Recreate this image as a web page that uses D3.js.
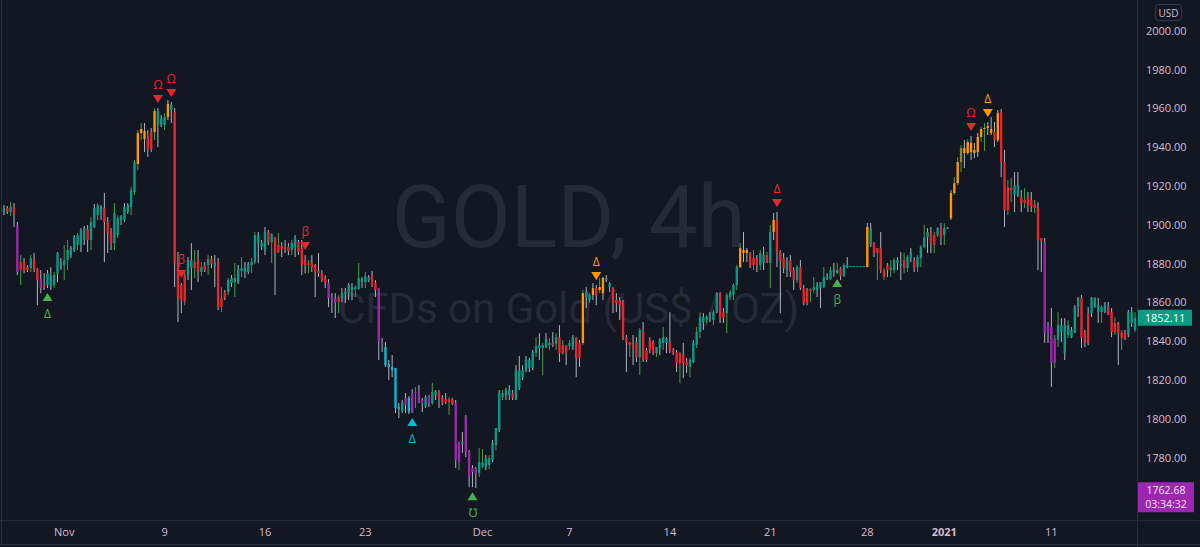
<!DOCTYPE html>
<html>
<head>
<meta charset="utf-8">
<script src="https://cdn.jsdelivr.net/npm/d3@7"></script>
<style>
  body { margin: 0; background: #131722; }
  svg { display: block; }
</style>
</head>
<body>
<svg id="chart"></svg>
<script>
// GOLD 4h candles (oldest first)
const opens = [
  1906.1,1908.7,1906.6,1909.2,1899.9,1880.8,1881.3,1878.2,1877.7,1882.4,
  1877.2,1872.0,1869.0,1869.0,1867.9,1869.0,1875.1,1877.7,1879.3,1881.8,
  1884.4,1887.0,1889.6,1889.6,1892.2,1897.8,1892.2,1898.9,1905.0,1906.6,
  1908.7,1901.5,1896.3,1890.6,1894.7,1902.5,1902.5,1906.6,1909.2,1916.9,
  1931.3,1947.3,1944.2,1944.2,1947.8,1947.8,1951.5,1951.5,1951.5,1955.6,
  1959.2,1958.2,1880.3,1869.0,1874.1,1874.1,1877.7,1880.8,1881.8,1875.7,
  1879.3,1879.3,1882.4,1878.8,1881.3,1862.3,1865.3,1865.3,1870.0,1870.5,
  1870.5,1876.2,1875.7,1875.7,1879.3,1880.8,1890.6,1888.6,1887.0,1896.3,
  1891.1,1893.7,1889.6,1889.1,1888.6,1888.6,1887.0,1888.6,1891.1,1888.0,
  1881.8,1880.3,1880.3,1879.3,1876.2,1875.1,1872.6,1870.0,1862.3,1861.7,
  1862.8,1862.3,1864.3,1864.8,1866.4,1866.9,1866.9,1870.5,1870.5,1871.5,
  1874.1,1870.0,1867.4,1839.6,1837.0,1828.2,1826.7,1826.2,1806.1,1804.0,
  1810.7,1810.7,1813.3,1813.8,1813.3,1809.7,1806.6,1811.2,1808.1,1812.2,1813.8,
  1810.7,1810.2,1810.2,1810.2,1808.1,1787.5,1787.0,1800.9,1782.9,1774.6,
  1774.1,1772.0,1775.2,1775.2,1776.2,1778.7,1786.5,1794.2,1811.2,1812.2,
  1812.2,1813.3,1809.7,1815.9,1821.5,1825.1,1826.2,1826.2,1833.9,1836.5,
  1836.5,1837.0,1838.0,1839.1,1838.6,1842.1,1838.0,1838.0,1837.5,1837.0,
  1841.6,1839.1,1839.1,1862.8,1861.2,1863.8,1867.4,1866.4,1864.8,1871.5,
  1867.9,1867.4,1861.2,1861.2,1860.2,1842.1,1839.6,1838.0,1839.6,1831.9,1844.7,
  1835.5,1840.6,1839.6,1833.9,1836.5,1839.1,1839.1,1839.6,1835.5,1834.4,
  1833.9,1832.9,1829.3,1826.7,1829.3,1838.0,1844.7,1849.9,1850.9,1852.0,
  1850.9,1855.0,1864.8,1855.0,1854.5,1862.8,1863.8,1869.0,1878.2,1885.5,
  1885.5,1885.5,1882.9,1882.9,1879.3,1880.3,1884.4,1880.3,1896.3,1902.5,
  1886.0,1882.9,1876.7,1881.8,1876.7,1871.5,1878.2,1867.4,1866.4,
  1866.9,1866.4,1866.4,1867.4,1867.9,1872.6,1872.0,1875.7,1875.1,1877.7,
  1873.6,1878.2,1878.8,1878.8,1878.8,1878.8,1878.8,1878.2,1889.6,1890.6,
  1888.0,1888.0,1876.7,1879.3,1876.7,1876.7,1880.3,1878.8,1881.8,1877.7,
  1882.9,1881.8,1878.2,1882.9,1888.6,1893.7,1896.3,1894.7,1894.7,1898.3,
  1894.7,1898.3,1903.5,1916.4,1921.5,1932.4,1937.0,1937.0,1937.5,1937.0,
  1937.5,1945.3,1949.4,1949.9,1947.3,1947.8,1943.7,1958.2,1932.4,1919.5,
  1919.0,1915.4,1915.4,1914.3,1912.8,1914.3,1912.8,1910.7,1908.7,1893.2,
  1890.6,1848.3,1847.3,1841.6,1840.6,1844.7,1833.9,1843.2,1842.1,1844.7,
  1857.6,1862.3,1844.7,1839.1,1854.5,1857.6,1855.0,1855.0,1855.0,1857.6,
  1855.0,1849.4,1849.4,1844.7,1844.2,1843.2,1849.4,1845.8
];
const highs = [
  1910.2,1909.7,1911.7,1911.2,1901.5,1884.4,1882.9,1879.3,1884.4,1885.5,
  1877.7,1876.7,1875.1,1876.7,1878.2,1875.7,1886.0,1882.9,1889.6,1892.2,
  1889.1,1894.7,1895.8,1898.3,1899.4,1899.9,1904.0,1910.7,1911.2,1910.2,
  1916.4,1904.0,1898.3,1911.2,1905.0,1905.0,1911.2,1911.2,1919.5,1933.4,
  1948.9,1952.5,1952.5,1948.9,1949.9,1960.2,1960.2,1956.6,1957.6,1964.3,
  1963.3,1960.2,1886.0,1870.0,1876.7,1883.4,1890.6,1887.0,1887.0,1880.8,
  1880.8,1884.4,1883.9,1884.4,1882.9,1867.9,1866.4,1872.6,1874.1,1880.3,
  1879.3,1883.4,1880.8,1880.8,1882.9,1896.3,1896.3,1892.2,1898.9,1897.3,
  1895.8,1893.7,1895.8,1891.1,1892.2,1890.6,1892.2,1894.7,1892.2,1892.2,
  1884.4,1881.8,1884.4,1879.8,1885.5,1876.7,1874.1,1872.0,1864.8,1864.8,
  1863.8,1867.4,1867.4,1870.0,1870.0,1869.0,1880.3,1873.1,1875.7,1874.1,
  1876.2,1871.5,1867.4,1841.6,1839.6,1830.3,1832.9,1826.2,1808.1,1809.7,
  1813.3,1811.7,1815.3,1816.4,1817.4,1810.7,1812.2,1812.2,1818.5,1814.8,1814.8,
  1812.2,1813.3,1811.2,1810.7,1809.7,1788.6,1793.2,1801.9,1783.9,1776.2,
  1775.2,1784.9,1784.4,1781.3,1781.3,1789.1,1795.3,1814.8,1814.8,1815.9,
  1817.4,1814.8,1827.7,1832.4,1827.7,1832.4,1831.4,1835.5,1842.1,1844.2,
  1839.1,1844.2,1841.6,1844.7,1844.2,1848.3,1840.6,1838.0,1840.6,1843.2,
  1842.1,1840.6,1866.4,1867.9,1864.8,1870.0,1869.0,1872.6,1873.1,1874.1,
  1870.5,1867.9,1864.8,1862.8,1861.2,1843.2,1839.6,1843.2,1842.1,1846.8,1849.9,
  1836.5,1842.1,1840.6,1837.0,1841.6,1847.3,1842.1,1855.0,1836.5,1835.5,
  1834.4,1839.1,1831.4,1831.4,1840.6,1847.3,1855.0,1854.5,1853.5,1855.0,
  1856.1,1865.3,1865.3,1857.1,1864.8,1866.4,1870.0,1879.3,1890.6,1896.3,
  1888.0,1886.0,1887.0,1884.4,1887.0,1888.6,1886.0,1899.9,1906.1,1906.6,
  1887.0,1885.5,1883.4,1884.4,1878.2,1879.3,1881.8,1869.0,1867.4,
  1867.4,1873.1,1870.5,1870.5,1878.2,1875.1,1878.2,1880.3,1880.3,1878.2,
  1880.3,1883.4,1878.8,1878.8,1878.8,1878.8,1878.8,1900.9,1900.9,1891.1,
  1888.0,1896.3,1877.7,1880.3,1881.8,1882.9,1883.4,1886.0,1885.5,1884.4,
  1888.0,1883.4,1884.4,1889.6,1899.9,1898.3,1898.9,1896.3,1898.9,1900.9,
  1900.9,1898.9,1917.9,1924.6,1934.9,1941.1,1943.7,1944.2,1945.8,1942.2,
  1947.3,1950.4,1952.5,1953.0,1955.6,1953.0,1959.2,1959.7,1938.6,1923.1,
  1924.1,1927.2,1927.2,1917.9,1918.9,1916.9,1916.9,1912.8,1911.7,1893.2,
  1893.2,1849.9,1857.1,1843.2,1855.0,1851.9,1851.9,1850.9,1847.3,1858.6,
  1862.8,1863.8,1845.8,1857.6,1862.8,1862.8,1862.3,1858.6,1860.2,1860.2,
  1857.1,1852.5,1849.9,1845.8,1845.8,1856.1,1857.6,1855.0
];
const lows = [
  1905.0,1905.6,1904.5,1898.9,1874.1,1869.0,1875.1,1875.7,1875.7,1875.7,
  1858.6,1864.8,1866.4,1867.4,1866.4,1867.4,1870.5,1876.7,1871.5,1876.7,
  1882.9,1886.0,1887.0,1886.0,1889.6,1886.0,1887.0,1898.3,1902.5,1902.5,
  1880.8,1885.5,1887.0,1887.0,1893.2,1899.9,1901.5,1905.6,1905.0,1915.4,
  1928.2,1943.7,1937.5,1935.0,1937.5,1943.7,1940.1,1950.4,1948.9,1954.0,
  1952.5,1867.9,1849.9,1854.5,1858.6,1871.5,1866.4,1872.6,1870.5,1873.6,
  1875.7,1874.1,1877.7,1867.9,1856.1,1855.0,1861.2,1863.8,1867.9,1862.8,
  1869.5,1873.1,1872.6,1874.6,1875.1,1879.8,1880.3,1887.0,1884.4,1889.6,
  1880.3,1863.8,1885.5,1883.4,1885.5,1884.4,1884.4,1883.4,1884.4,1874.1,
  1875.1,1875.1,1875.7,1862.8,1873.1,1870.5,1867.4,1857.6,1854.5,1852.0,
  1854.5,1860.2,1859.7,1861.2,1861.2,1862.8,1866.4,1867.4,1867.4,1870.5,
  1867.9,1862.8,1830.3,1834.4,1826.7,1820.0,1821.5,1803.0,1800.4,1803.0,
  1803.0,1802.5,1803.0,1805.6,1808.1,1803.5,1805.6,1806.1,1807.1,1809.7,1805.6,
  1807.1,1807.6,1802.0,1807.1,1774.6,1773.6,1782.4,1780.3,1764.8,1764.8,
  1764.3,1770.0,1774.6,1773.6,1774.1,1777.7,1783.9,1793.2,1809.7,1809.7,
  1809.7,1809.7,1809.7,1814.8,1820.0,1824.1,1824.1,1825.1,1831.9,1830.3,
  1822.6,1836.5,1835.5,1837.0,1835.5,1829.3,1832.9,1827.7,1835.5,1835.5,
  1821.5,1826.7,1838.0,1857.1,1859.7,1861.2,1858.6,1864.8,1861.2,1870.5,
  1865.3,1854.5,1855.0,1850.9,1840.6,1824.1,1831.9,1827.7,1829.3,1822.6,1829.3,
  1829.3,1833.9,1832.9,1831.9,1832.9,1835.5,1833.9,1833.9,1832.9,1824.1,
  1818.4,1821.0,1823.6,1821.5,1828.8,1836.5,1841.6,1845.8,1849.4,1849.9,
  1848.3,1854.5,1849.4,1849.4,1844.2,1861.2,1861.2,1866.4,1877.7,1880.8,
  1880.8,1877.7,1876.7,1875.7,1876.7,1876.7,1880.3,1867.4,1892.2,1878.2,
  1854.5,1875.1,1873.1,1873.1,1866.4,1870.0,1866.4,1858.6,1858.6,
  1860.2,1864.8,1862.8,1857.1,1867.4,1871.5,1871.5,1873.1,1874.6,1871.5,
  1873.1,1877.7,1878.8,1878.8,1878.8,1878.8,1878.8,1878.2,1888.6,1883.4,
  1871.5,1875.1,1871.5,1873.1,1873.1,1875.1,1876.7,1871.5,1875.1,1875.7,
  1880.8,1875.7,1875.7,1878.2,1888.0,1885.5,1885.5,1885.5,1893.7,1889.6,
  1889.6,1897.8,1902.5,1915.4,1920.5,1927.2,1929.3,1936.0,1933.4,1934.4,
  1935.0,1942.7,1938.1,1946.3,1946.3,1940.1,1942.7,1924.6,1898.9,1905.0,
  1911.7,1906.6,1914.3,1906.6,1908.7,1906.6,1906.6,1906.1,1876.7,1875.7,
  1839.1,1839.1,1816.4,1826.2,1837.0,1839.6,1830.3,1841.6,1841.6,1844.2,
  1852.5,1836.5,1837.0,1838.0,1852.5,1857.1,1849.4,1849.4,1854.5,1853.5,
  1842.1,1843.2,1827.7,1835.5,1840.6,1842.1,1847.3,1844.7
];
const closes = [
  1908.7,1906.6,1909.2,1905.6,1875.7,1876.7,1876.7,1876.7,1882.9,1877.2,
  1871.5,1867.4,1867.9,1875.1,1874.1,1874.1,1885.5,1880.8,1881.8,1887.0,
  1888.0,1893.7,1894.7,1897.3,1898.3,1892.2,1901.5,1908.7,1910.2,1909.2,
  1901.5,1895.8,1890.6,1906.1,1903.5,1904.5,1909.2,1910.2,1917.9,1932.4,
  1947.3,1949.4,1948.3,1939.1,1939.1,1958.7,1958.7,1955.1,1955.6,1962.3,
  1961.8,1880.3,1862.3,1861.2,1860.2,1881.8,1881.8,1877.7,1875.7,1878.2,
  1876.7,1882.4,1879.8,1880.8,1857.6,1857.6,1862.3,1871.5,1872.6,1872.6,
  1877.2,1877.7,1877.7,1879.8,1880.8,1894.7,1894.7,1890.6,1896.3,1891.1,
  1895.2,1885.5,1886.0,1887.5,1887.5,1886.5,1890.6,1893.2,1886.0,1879.3,
  1879.3,1879.3,1878.2,1875.7,1875.1,1871.5,1870.0,1862.3,1861.2,1860.2,
  1860.2,1864.8,1865.3,1869.0,1867.9,1867.9,1872.6,1872.0,1873.6,1873.1,
  1869.0,1866.4,1839.6,1838.5,1827.7,1826.7,1825.1,1805.6,1805.0,1808.1,
  1807.1,1803.5,1803.5,1813.3,1808.6,1808.1,1811.2,1807.6,1813.8,1814.3,1810.2,
  1808.1,1808.6,1808.6,1807.6,1778.7,1777.7,1788.0,1782.9,1770.0,1772.6,
  1772.0,1777.7,1777.7,1779.3,1779.8,1787.5,1795.3,1813.3,1813.3,1814.8,
  1814.8,1810.7,1825.1,1825.1,1825.1,1830.3,1830.3,1834.4,1837.5,1838.0,
  1838.0,1841.1,1839.1,1838.0,1842.1,1833.9,1833.9,1833.9,1839.1,1842.1,
  1831.4,1831.4,1864.8,1865.3,1863.8,1867.4,1863.8,1867.9,1872.6,1872.6,
  1870.0,1859.7,1859.7,1858.6,1842.1,1839.1,1838.0,1836.5,1831.9,1845.8,1830.3,
  1830.3,1835.5,1833.9,1837.0,1840.6,1842.1,1841.6,1835.5,1833.9,1828.8,
  1828.8,1828.8,1827.7,1830.3,1839.1,1844.7,1852.5,1852.5,1852.5,1852.5,
  1855.0,1864.8,1852.0,1852.0,1863.8,1865.3,1869.0,1878.2,1888.0,1887.0,
  1887.0,1878.2,1879.3,1879.3,1885.5,1884.4,1880.3,1896.3,1902.5,1886.0,
  1881.8,1877.7,1881.8,1875.7,1871.5,1878.2,1867.4,1859.7,1859.7,
  1865.9,1867.9,1869.0,1870.5,1873.1,1873.1,1876.7,1876.7,1876.7,1873.6,
  1879.3,1879.3,1878.8,1878.8,1878.8,1878.8,1878.8,1898.9,1898.3,1885.5,
  1885.5,1876.7,1873.1,1876.7,1878.2,1881.8,1881.8,1879.8,1877.7,1883.4,
  1886.0,1877.7,1883.4,1888.6,1893.7,1896.3,1890.6,1889.6,1898.3,1893.7,
  1898.3,1898.4,1916.4,1921.5,1932.4,1939.6,1939.6,1942.7,1942.2,1938.6,
  1945.3,1949.4,1949.9,1950.9,1949.4,1943.7,1957.6,1932.4,1907.6,1907.6,
  1917.9,1920.5,1920.5,1911.2,1911.2,1910.2,1909.2,1908.7,1892.2,1891.6,
  1844.2,1844.2,1828.8,1828.8,1848.3,1848.3,1848.3,1848.3,1845.8,1857.6,
  1862.3,1842.1,1839.1,1854.5,1862.3,1862.3,1858.6,1857.6,1858.6,1853.5,
  1844.7,1844.7,1844.2,1841.6,1841.6,1855.0,1855.0,1852.11
];
// indicator state per candle: t teal, r red, o orange, p purple, c cyan, v olive
const bodyKinds = (
  "trtrprrrtr rprttttttt tttttrtttt rrrttttttt ooorrottto " +
  "trrrrttrrt rtrtrrrttt tttttttttr trrrrrttrr rrrrrrrppp " +
  "rttttttttt rrppccccct pcpppptpttr rrrrpptppp pttttttttt " +
  "trtttttttt tttrtrrrtt rrottoroot trrrrrrrrtr rrrttttrrr " +
  "rrrttttttt ttrrttttoo orrrttrtor rrtrrtrrr rttttttttr " +
  "tttttttotr rrrrttttrt trttttrrtr ttooovoooo ooooororrr " +
  "rttrrrrrrr pppptttttt trrrtttttr rrrrrttt").replace(/ /g, "").split("");
// wick tone per candle: g grey, n green
const wickKinds = (
  "ggnggnggng gggggnggnn ggngggngng gggnngggnn nngggnggng " +
  "ggggnggngn gngggngngn gnggnngggg ngngggnggg gngggggggg " +
  "nggggnngng gggggggggg gggnggggngg ggnggngggg gnngngngng " +
  "ggggggggng ngngngngng ggngnggngg ggggggnggng gggngngggg " +
  "nggngnngng ngggnnnnng ggngngnngg gggggnggg nnggngngng " +
  "nggggggggg ngngnnggnn ggnnnggnng nggnnngngg gnnggggggn " +
  "ngggnggngg gggnnggngg gggggngngg gngngggn").replace(/ /g, "").split("");

const tickIndex = [18, 48, 78, 108, 143, 169, 199, 229, 258, 281, 313];
const tickLabels = ["Nov", "9", "16", "23", "Dec", "7", "14", "21", "28", "2021", "11"];
const priceTicks = [1780, 1800, 1820, 1840, 1860, 1880, 1900, 1920, 1940, 1960, 1980, 2000];

// signal shapes from the indicator
const markerIndex = [13, 46, 50, 53, 90, 122, 140, 177, 231, 249, 289, 294];
const markerGlyph = ["Δ", "Ω", "Ω", "β", "β", "Δ", "℧", "Δ", "Δ", "β", "Ω", "Δ"];
const markerSide  = ["below", "above", "above", "above", "above", "below", "below", "above", "above", "below", "above", "above"];
const markerKind  = ["green", "red", "red", "red", "red", "cyan", "green", "orange", "red", "green", "red", "orange"];

const levelPrice = 1762.68;
const levelTimer = "03:34:32";

const W = 1200, H = 547;
const plotRight = 1137, timeTop = 520.7;
const bg = "#131722", lineCol = "#2a2e39", textCol = "#d6bccd";
const bodyColor = { t: "#0b9a86", r: "#e8262e", o: "#ff9800", p: "#9c27b0", c: "#00bcd4", v: "#8b8b2b" };
const wickColor = { g: "#b2b5be", n: "#43a047" };
const markColor = { green: "#4caf50", red: "#e8262e", cyan: "#00bcd4", orange: "#ff9800" };

const svg = d3.select("#chart").attr("width", W).attr("height", H)
  .style("font-family", "'Open Sans', sans-serif");

svg.append("rect").attr("width", W).attr("height", H).attr("fill", bg);

const n = closes.length;
const x = d3.scaleBand().domain(d3.range(n)).range([2.3, 1136.7])
  .paddingInner(0.3).paddingOuter(0.15);
const y = d3.scaleLinear().domain([1747.5, 2015.9]).range([timeTop, 0]);
const cx = i => x(i) + x.bandwidth() / 2;

// watermark
const wm = svg.append("g").attr("fill", "#252a37").attr("text-anchor", "middle")
  .style("font-family", "Roboto, sans-serif");
wm.append("text").attr("x", plotRight / 2).attr("y", 247).attr("font-size", 87).text("GOLD, 4h");
wm.append("text").attr("x", plotRight / 2).attr("y", 323).attr("font-size", 42).text("CFDs on Gold (US$ / OZ)");

svg.append("clipPath").attr("id", "plot")
  .append("rect").attr("width", plotRight).attr("height", timeTop);
const g = svg.append("g").attr("clip-path", "url(#plot)");

const candles = g.selectAll("g.candle").data(d3.range(n)).join("g").attr("class", "candle");
candles.append("line")
  .attr("x1", i => cx(i)).attr("x2", i => cx(i))
  .attr("y1", i => y(highs[i])).attr("y2", i => y(lows[i]))
  .attr("stroke", i => wickColor[wickKinds[i]] || wickColor.g)
  .attr("stroke-width", 1);
candles.append("rect")
  .attr("x", i => x(i))
  .attr("width", x.bandwidth())
  .attr("y", i => y(Math.max(opens[i], closes[i])))
  .attr("height", i => Math.max(1, Math.abs(y(opens[i]) - y(closes[i]))))
  .attr("fill", i => bodyColor[bodyKinds[i]] || bodyColor.t);

// indicator shapes
const tri = 5, triH = 8, gap = 5;
markerIndex.forEach((idx, k) => {
  const col = markColor[markerKind[k]];
  const px = cx(idx);
  if (markerSide[k] === "above") {
    const tip = y(highs[idx]) - gap;
    g.append("path")
      .attr("d", `M${px - tri},${tip - triH}L${px + tri},${tip - triH}L${px},${tip}Z`)
      .attr("fill", col);
    g.append("text").attr("x", px).attr("y", tip - triH - 6)
      .attr("text-anchor", "middle").attr("font-size", 12).attr("fill", col)
      .text(markerGlyph[k]);
  } else {
    const tip = y(lows[idx]) + gap;
    g.append("path")
      .attr("d", `M${px - tri},${tip + triH}L${px + tri},${tip + triH}L${px},${tip}Z`)
      .attr("fill", col);
    g.append("text").attr("x", px).attr("y", tip + triH + 17)
      .attr("text-anchor", "middle").attr("font-size", 12).attr("fill", col)
      .text(markerGlyph[k]);
  }
});

// frame lines
svg.append("line").attr("x1", plotRight + 0.5).attr("x2", plotRight + 0.5)
  .attr("y1", 0).attr("y2", H).attr("stroke", lineCol);
svg.append("line").attr("x1", 0).attr("x2", W)
  .attr("y1", timeTop).attr("y2", timeTop).attr("stroke", lineCol);
svg.append("line").attr("x1", 0).attr("x2", W)
  .attr("y1", 544.5).attr("y2", 544.5).attr("stroke", lineCol);
svg.append("line").attr("x1", 1.5).attr("x2", 1.5)
  .attr("y1", 0).attr("y2", 544.5).attr("stroke", lineCol);

// price axis
const yAxis = svg.append("g").attr("transform", `translate(${plotRight + 9},0)`)
  .call(d3.axisRight(y).tickValues(priceTicks).tickFormat(d3.format(".2f")).tickSize(0).tickPadding(0));
yAxis.select(".domain").remove();
yAxis.selectAll("text").attr("fill", textCol).attr("font-size", 11)
  .style("font-family", "'Open Sans', sans-serif");

// time axis
const xAxis = svg.append("g").attr("transform", `translate(0,${timeTop})`)
  .call(d3.axisBottom(x).tickValues(tickIndex).tickFormat((d, k) => tickLabels[k]).tickSize(0).tickPadding(8));
xAxis.select(".domain").remove();
xAxis.selectAll("text").attr("fill", textCol).attr("font-size", 11)
  .style("font-family", "'Open Sans', sans-serif")
  .attr("font-weight", (d, k) => tickLabels[k] === "2021" ? "bold" : null);

// currency badge
svg.append("rect").attr("x", 1155.5).attr("y", 4.5).attr("width", 26).attr("height", 16).attr("rx", 3)
  .attr("fill", bg).attr("stroke", "#363a45");
svg.append("text").attr("x", 1168.5).attr("y", 16.5).attr("text-anchor", "middle")
  .attr("font-size", 10).attr("fill", textCol).text("USD");

// last price label
const lastPrice = closes[n - 1];
const ly = y(lastPrice);
svg.append("rect").attr("x", plotRight + 1).attr("y", ly - 8).attr("width", 54).attr("height", 16)
  .attr("fill", "#0b9a86");
svg.append("text").attr("x", plotRight + 28).attr("y", ly + 4).attr("text-anchor", "middle")
  .attr("font-size", 11).attr("fill", "#ffffff").text(lastPrice.toFixed(2));

// level label with countdown
const vy = y(levelPrice);
svg.append("rect").attr("x", plotRight + 1).attr("y", vy - 9).attr("width", 56).attr("height", 30)
  .attr("fill", "#9c27b0");
svg.append("text").attr("x", plotRight + 29).attr("y", vy + 2.5).attr("text-anchor", "middle")
  .attr("font-size", 10.5).attr("fill", "#f3e5f5").text(levelPrice.toFixed(2));
svg.append("text").attr("x", plotRight + 29).attr("y", vy + 17).attr("text-anchor", "middle")
  .attr("font-size", 10.5).attr("fill", "#f3e5f5").text(levelTimer);
</script>
</body>
</html>
